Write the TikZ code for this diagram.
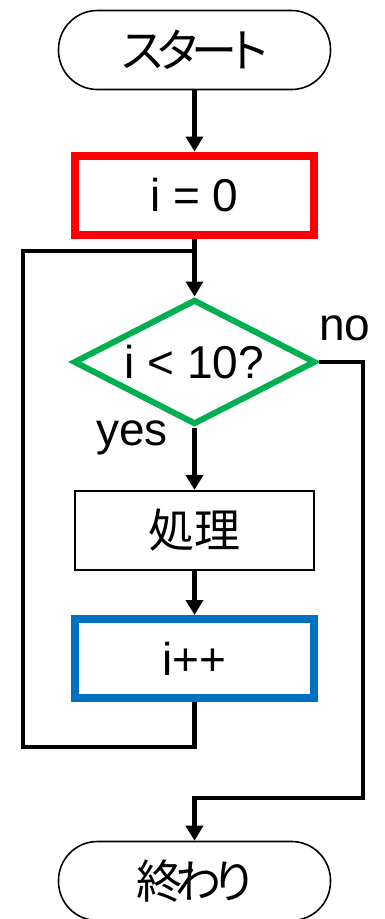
\documentclass[tikz,border=0pt]{standalone}
\usepackage{fontspec}
\setmainfont{Liberation Sans}
\newfontfamily\jp[RawFeature=+palt]{Noto Sans CJK JP}
\usetikzlibrary{arrows.meta,shapes.geometric}
\definecolor{myred}{HTML}{FF0000}
\definecolor{mygreen}{HTML}{00B050}
\definecolor{myblue}{HTML}{0070C0}
\begin{document}
\begin{tikzpicture}[x=1pt,y=-1pt,
  every node/.style={font=\fontsize{46pt}{50pt}\selectfont, inner sep=0pt},
  term/.style={draw=black, line width=1.6pt, rounded corners=39pt, minimum width=272pt, minimum height=79pt, fill=white},
  procbox/.style={draw=black, line width=1.6pt, minimum width=239.5pt, minimum height=79.5pt},
  thickbox/.style={line width=8pt, minimum width=239pt, minimum height=79pt},
  decbox/.style={diamond, draw=mygreen, line width=6pt, minimum width=242pt, minimum height=125pt, aspect=1.94},
  conn/.style={line width=4.5pt, draw=black},
  arr/.style={conn, -{Triangle[width=17pt,length=15pt]}},
  lbl/.style={anchor=base west}
]
\useasboundingbox (0,0) rectangle (384,919);
\node[term] (start) at (194.5,50) {\jp ス\kern-5.5pt タ\kern-5.5pt ー\kern-5.5pt ト};
\node[thickbox, draw=myred] (init) at (194.5,195) {i = 0};
\node[decbox] (dec) at (194.5,362) {i < 10?};
\node[procbox] (proc) at (194.5,530.5) {\jp 処理};
\node[thickbox, draw=myblue] (inc) at (194.5,658.5) {i++};
\node[term] (end) at (194.5,881) {\jp 終\kern-7pt わ\kern-7pt り};
\node[lbl] (no) at (319,340) {no};
\node[lbl] (yes) at (96,445) {yes};
\coordinate (lb) at (194.5,747);
\coordinate (lt) at (23,251);
\coordinate (nr) at (363,798);
\draw[arr] (start.south) -- (init.north);
\draw[arr] (init.south) -- (dec.north);
\draw[arr] (dec.south) -- (proc.north);
\draw[arr] (proc.south) -- (inc.north);
\draw[conn] (inc.south) -- (lb) -| (lt) -- (lt -| init.south);
\draw[arr] (dec.east) -- (dec.east -| nr) -- (nr) -- (nr -| end.north) -- (end.north);
\end{tikzpicture}
\end{document}
